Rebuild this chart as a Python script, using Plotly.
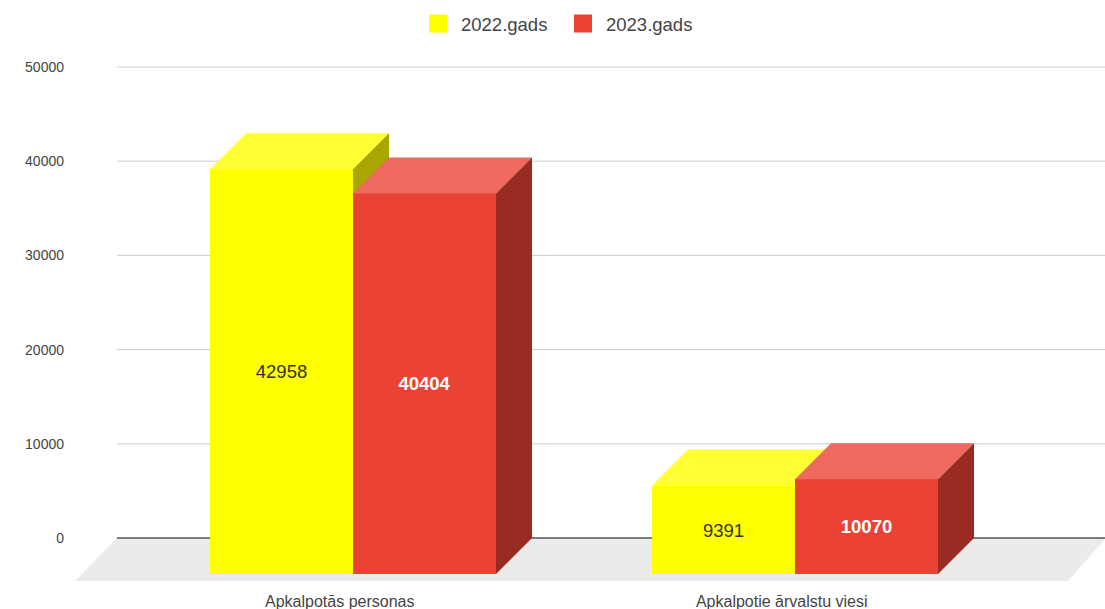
import plotly.graph_objects as go

categories = ["Apkalpotās personas", "Apkalpotie ārvalstu viesi"]
series_names = ["2022.gads", "2023.gads"]
values_2022 = [42958, 9391]
values_2023 = [40404, 10070]
y_ticks = [0, 10000, 20000, 30000, 40000, 50000]

W, H = 1105, 609
L, R, T, B = 70, 1105, 40, 590          # plot area in pixels
Y50, Y0 = 67, 538                       # pixel rows of 50000 and 0
X0, STEP = 353, 442                     # pixel column of category 0, category spacing
PX_Y = (Y0 - Y50) / 50000               # pixels per unit
yr = [(Y0 - B) / PX_Y, (Y0 - T) / PX_Y]
xr = [(L - X0) / STEP, (R - X0) / STEP]
bar_w = 143 / STEP
dx = 36 / STEP
dy = 36 / PX_Y
FONT = "Liberation Sans, Arial, sans-serif"

fig = go.Figure()


def add_series(name, values, side, face, top, side_col, txt, weight, xa, ya):
    idx = list(range(len(values)))
    xs = [i + side * bar_w / 2 for i in idx]
    fig.add_trace(go.Bar(
        name=name, x=xs, y=values, base=[-dy] * len(values), showlegend=False,
        width=bar_w, marker=dict(color=face, line=dict(width=0)),
        text=[str(v) for v in values], textposition="inside", insidetextanchor="middle",
        textangle=0, textfont=dict(color=txt, size=18.5, family=FONT, weight=weight),
        xaxis=xa, yaxis=ya, hoverinfo="skip", legendgroup=name,
    ))
    for i, v in zip(idx, values):
        l, r = xs[i] - bar_w / 2, xs[i] + bar_w / 2
        t = v - dy
        fig.add_trace(go.Scatter(
            x=[l, r, r + dx, l + dx, l], y=[t, t, t + dy, t + dy, t],
            fill="toself", fillcolor=top, mode="lines", line=dict(width=0),
            showlegend=False, hoverinfo="skip", xaxis=xa, yaxis=ya))
        fig.add_trace(go.Scatter(
            x=[r, r + dx, r + dx, r, r], y=[-dy, 0, t + dy, t, -dy],
            fill="toself", fillcolor=side_col, mode="lines", line=dict(width=0),
            showlegend=False, hoverinfo="skip", xaxis=xa, yaxis=ya))
    # legend key
    fig.add_trace(go.Scatter(
        name=name, x=[None], y=[None], mode="markers", legendgroup=name, hoverinfo="skip",
        marker=dict(symbol="square", size=16, color=face, line=dict(color=face, width=2)),
        xaxis=xa, yaxis=ya))


add_series(series_names[0], values_2022, -1, "#ffff00", "#ffff33", "#a8a800", "#333333", 400, "x", "y")
add_series(series_names[1], values_2023, 1, "#ea4335", "#ee6a5e", "#992b22", "#ffffff", 700, "x2", "y2")

x_grid0 = (117 - X0) / STEP
floor_b = -(581 - Y0) / PX_Y
shapes = [dict(
    type="path", layer="below", xref="x", yref="y", line=dict(width=0), fillcolor="#ebebeb",
    path=f"M {(75 - X0) / STEP} {floor_b} L {x_grid0} 0 L {xr[1]} 0 L {xr[1]} {-(539 - Y0) / PX_Y} "
         f"L {(1068 - X0) / STEP} {floor_b} Z")]
for v in y_ticks:
    shapes.append(dict(
        type="line", layer="below", xref="x", yref="y", x0=x_grid0, x1=xr[1], y0=v, y1=v,
        line=dict(color="#555555" if v == 0 else "#cccccc", width=1.3 if v == 0 else 1)))

fig.update_layout(
    width=W, height=H, margin=dict(l=L, r=W - R, t=T, b=H - B, autoexpand=False),
    paper_bgcolor="white", plot_bgcolor="white", shapes=shapes, barmode="overlay", bargap=0,
    font=dict(family=FONT, size=14, color="#444444"),
    legend=dict(orientation="h", xref="paper", yref="container", x=(560 - L) / (R - L), xanchor="center",
                y=0.992, yanchor="top", font=dict(size=18.5, color="#444444"),
                itemwidth=36, entrywidth=94, entrywidthmode="pixels",
                bgcolor="rgba(0,0,0,0)", itemclick=False, itemdoubleclick=False, traceorder="normal"),
    xaxis=dict(range=xr, showgrid=False, zeroline=False, showline=False, ticks="",
               tickmode="array", tickvals=[i - 0.03 for i in range(len(categories))],
               ticktext=categories, tickfont=dict(size=16, color="#444444")),
    yaxis=dict(range=yr, showgrid=False, zeroline=False, showline=False, ticks="",
               tickmode="array", tickvals=y_ticks, ticktext=[str(v) for v in y_ticks],
               tickfont=dict(size=14, color="#444444"), ticklabelstandoff=5),
    xaxis2=dict(range=xr, overlaying="x", visible=False),
    yaxis2=dict(range=yr, overlaying="y", visible=False),
)

fig.write_html("out.html", config=dict(displayModeBar=False),
               post_script="document.body.style.margin='0';")
